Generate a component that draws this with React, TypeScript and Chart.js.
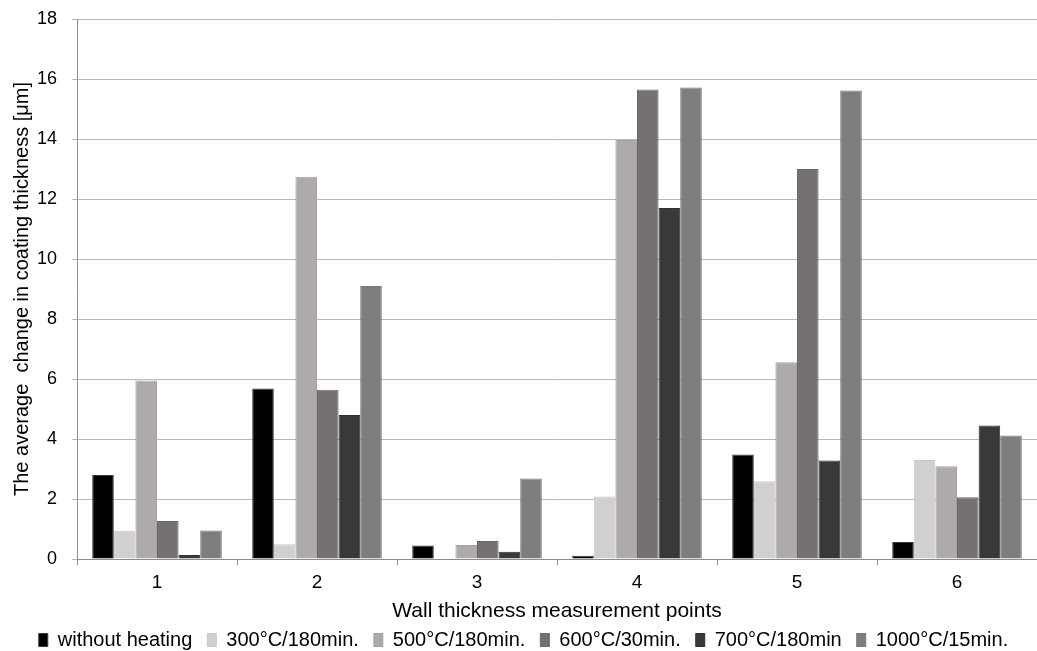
import React, { useEffect, useRef } from "react";
import { Chart, registerables } from "chart.js";

Chart.register(...registerables);

const categories = ["1", "2", "3", "4", "5", "6"];
const seriesNames = [
  "without heating",
  "300°C/180min.",
  "500°C/180min.",
  "600°C/30min.",
  "700°C/180min",
  "1000°C/15min.",
];
const withoutHeating = [2.8, 5.68, 0.45, 0.11, 3.48, 0.57];
const t300 = [0.94, 0.49, 0.0, 2.08, 2.59, 3.3];
const t500 = [5.95, 12.74, 0.47, 13.97, 6.56, 3.09];
const t600 = [1.27, 5.64, 0.6, 15.65, 13.0, 2.06];
const t700 = [0.13, 4.8, 0.24, 11.7, 3.28, 4.45];
const t1000 = [0.95, 9.1, 2.68, 15.72, 15.62, 4.12];
const colors = ["#000000", "#d0d0d0", "#aeaaa9", "#757170", "#3a3839", "#7f7f7f"];
const borders = ["#3a3a3a", "#c8c8c8", "#a6a2a1", "#6c6867", "#333132", "#777777"];
const yTicks = [0, 2, 4, 6, 8, 10, 12, 14, 16, 18];

function makePattern(): CanvasPattern | string {
  const c = document.createElement("canvas");
  c.width = 2;
  c.height = 2;
  const g = c.getContext("2d");
  if (!g) return "#7f7f7f";
  g.fillStyle = "#838383";
  g.fillRect(0, 0, 2, 2);
  g.fillStyle = "#787878";
  g.fillRect(0, 0, 1, 1);
  g.fillRect(1, 1, 1, 1);
  return g.createPattern(c, "repeat") || "#7f7f7f";
}

export default function App() {
  const ref = useRef<HTMLCanvasElement>(null);
  useEffect(() => {
    document.body.style.margin = "0";
    const values = [withoutHeating, t300, t500, t600, t700, t1000];
    const fills: any[] = colors.slice();
    fills[5] = makePattern();
    const font = "Liberation Sans";
    const chart = new Chart(ref.current!, {
      type: "bar",
      data: {
        labels: categories,
        datasets: values.map((v, i) => ({
          label: seriesNames[i],
          data: v,
          backgroundColor: fills[i],
          borderColor: borders[i],
          borderWidth: 1,
          categoryPercentage: 0.81,
          barPercentage: 1,
        })),
      },
      options: {
        animation: false,
        responsive: false,
        layout: { padding: { top: 0, right: 0, left: 10, bottom: -9 } },
        plugins: {
          tooltip: { enabled: false },
          legend: {
            position: "bottom",
            labels: {
              font: { family: font, size: 20 },
              color: "#000",
              boxWidth: 9,
              boxHeight: 13,
              padding: 15,
            },
          },
        },
        scales: {
          x: {
            offset: true,
            afterFit: (s: any) => {
              s.height = 56;
            },
            grid: {
              offset: true,
              drawOnChartArea: false,
              drawTicks: true,
              tickLength: 6,
              color: "#8c8c8c",
            },
            border: { color: "#8c8c8c" },
            ticks: { font: { family: font, size: 19 }, color: "#000", padding: 6 },
            title: {
              display: true,
              text: "Wall thickness measurement points",
              font: { family: font, size: 21 },
              color: "#000",
              padding: { top: 0, bottom: -9 },
            },
          },
          y: {
            min: 0,
            max: 18,
            afterFit: (s: any) => {
              s.width = 67;
              s.paddingTop = 19;
            },
            afterBuildTicks: (s: any) => {
              s.ticks = yTicks.map((v) => ({ value: v }));
            },
            grid: { color: "#b8b8b8", tickLength: 5, lineWidth: 1 },
            border: { color: "#8c8c8c" },
            ticks: { font: { family: font, size: 18 }, color: "#000", padding: 15 },
            title: {
              display: true,
              text: "The average  change in coating thickness [μm]",
              font: { family: font, size: 20 },
              color: "#000",
              padding: { top: 0, bottom: 5 },
            },
          },
        },
      },
    });
    return () => chart.destroy();
  }, []);
  return (
    <div style={{ width: 1037, height: 651 }}>
      <canvas ref={ref} width={1037} height={651} />
    </div>
  );
}
